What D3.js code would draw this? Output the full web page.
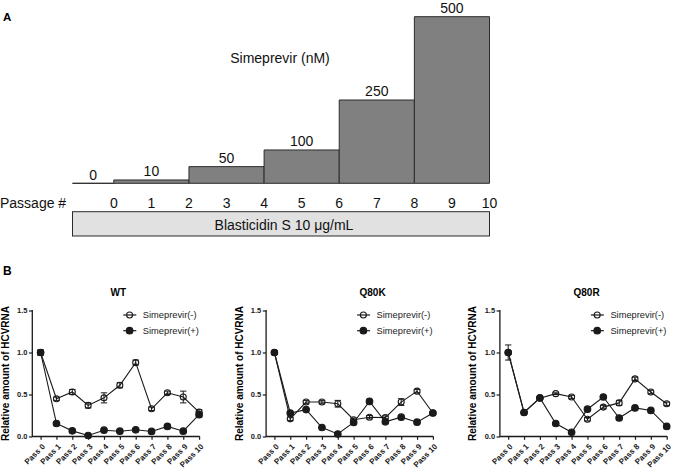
<!DOCTYPE html>
<html><head><meta charset="utf-8">
<script src="https://cdn.jsdelivr.net/npm/d3@7"></script>
<style>body{margin:0;background:#fff} svg{display:block;font-family:"Liberation Sans",Arial,Helvetica,sans-serif}</style>
</head><body><svg id="c" width="675" height="473"></svg>
<script>
// ---------- Data ----------
const doseValues = [0, 10, 50, 100, 250, 500];
const doseStartPassage = [-1.1, 0, 2, 4, 6, 8];
const doseEndPassage = [0, 2, 4, 6, 8, 10];
const passageNumbers = [0, 1, 2, 3, 4, 5, 6, 7, 8, 9, 10];
const passLabels = ["Pass 0","Pass 1","Pass 2","Pass 3","Pass 4","Pass 5","Pass 6","Pass 7","Pass 8","Pass 9","Pass 10"];
const panelNames = ["WT", "Q80K", "Q80R"];
const seriesNames = ["Simeprevir(-)", "Simeprevir(+)"];
const yTicks = [0, 0.5, 1.0, 1.5];

const wtMinus    = [1.00, 0.45, 0.53, 0.37, 0.46, 0.61, 0.88, 0.33, 0.52, 0.47, 0.29];
const wtMinusErr = [0.03, 0.02, 0.03, 0.03, 0.06, 0.03, 0.03, 0.02, 0.02, 0.07, 0.03];
const wtPlus     = [1.00, 0.155, 0.067, 0.012, 0.075, 0.063, 0.08, 0.06, 0.12, 0.063, 0.26];
const wtPlusErr  = [0.03, 0.01, 0.01, 0.01, 0.01, 0.01, 0.01, 0.01, 0.01, 0.01, 0.03];

const k80Minus    = [1.00, 0.21, 0.41, 0.41, 0.39, 0.20, 0.23, 0.225, 0.41, 0.54, 0.28];
const k80MinusErr = [0.02, 0.02, 0.02, 0.02, 0.04, 0.02, 0.02, 0.02, 0.04, 0.02, 0.02];
const k80Plus     = [1.00, 0.28, 0.32, 0.107, 0.03, 0.167, 0.417, 0.175, 0.23, 0.17, 0.28];
const k80PlusErr  = [0.02, 0.01, 0.01, 0.01, 0.01, 0.01, 0.01, 0.01, 0.01, 0.01, 0.01];

const r80Minus    = [1.00, 0.286, 0.456, 0.51, 0.47, 0.206, 0.35, 0.40, 0.686, 0.53, 0.39];
const r80MinusErr = [0.09, 0.01, 0.01, 0.01, 0.02, 0.02, 0.02, 0.03, 0.02, 0.02, 0.02];
const r80Plus     = [1.00, 0.286, 0.46, 0.155, 0.05, 0.325, 0.47, 0.22, 0.34, 0.31, 0.12];
const r80PlusErr  = [0.02, 0.01, 0.01, 0.01, 0.01, 0.01, 0.01, 0.01, 0.01, 0.01, 0.01];

const panelData = [
  {minus: wtMinus, minusErr: wtMinusErr, plus: wtPlus, plusErr: wtPlusErr},
  {minus: k80Minus, minusErr: k80MinusErr, plus: k80Plus, plusErr: k80PlusErr},
  {minus: r80Minus, minusErr: r80MinusErr, plus: r80Plus, plusErr: r80PlusErr}
];

// ---------- Drawing ----------
const svg = d3.select("#c");
const dark = "#1a1a1a";

// Panel A
svg.append("text").attr("x", 3).attr("y", 20.7).attr("font-size", 11.5).attr("font-weight", "bold").text("A");

const xA = d3.scaleLinear().domain([-1.1, 10]).range([72.5, 489.5]);
const yA = d3.scaleLinear().domain([0, 500]).range([183.3, 16.7]);

const gA = svg.append("g");
doseValues.forEach((d, i) => {
  const x0 = xA(doseStartPassage[i]), x1 = xA(doseEndPassage[i]), yt = yA(d), yb = yA(0);
  gA.append("path")
    .attr("d", `M${x0},${yb}V${yt}H${x1}V${yb}Z`)
    .attr("fill", "#808080").attr("stroke", "#2b2b2b").attr("stroke-width", 1);
  gA.append("text").attr("x", (x0 + x1) / 2).attr("y", yt - 3.8)
    .attr("text-anchor", "middle").attr("font-size", 14).attr("fill", "#111").text(d);
});

svg.append("text").attr("x", 280).attr("y", 63).attr("text-anchor", "middle")
  .attr("font-size", 14).attr("fill", "#111").text("Simeprevir (nM)");

svg.append("text").attr("x", 0).attr("y", 208.3).attr("font-size", 14).attr("fill", "#111").text("Passage #");
passageNumbers.forEach(p => {
  svg.append("text").attr("x", xA(p)).attr("y", 208.3).attr("text-anchor", "middle")
    .attr("font-size", 14).attr("fill", "#111").text(p);
});

svg.append("rect").attr("x", xA(-1.1)).attr("y", 211.7).attr("width", xA(10) - xA(-1.1)).attr("height", 24.3)
  .attr("fill", "#e1e1e1").attr("stroke", "#2b2b2b").attr("stroke-width", 1);
svg.append("text").attr("x", 284).attr("y", 229.5).attr("text-anchor", "middle")
  .attr("font-size", 14).attr("fill", "#111").text("Blasticidin S 10 μg/mL");

// Panel B
svg.append("text").attr("x", 3).attr("y", 275).attr("font-size", 12).attr("font-weight", "bold").text("B");

const titleOffsets = [86, 106.5, 86.7];
panelNames.forEach((name, pi) => {
  const ax = 32.3 + pi * 233.8;
  const g = svg.append("g");
  const x = d3.scaleLinear().domain([0, 10]).range([ax + 8.3, ax + 166.8]);
  const y = d3.scaleLinear().domain([0, 1.5]).range([436.5, 310.5]);
  const dat = panelData[pi];

  // title
  g.append("text").attr("x", ax + titleOffsets[pi]).attr("y", 296).attr("text-anchor", "middle")
    .attr("font-size", 10).attr("font-weight", "bold").text(name);

  // y label
  g.append("text").attr("transform", `translate(${ax - 23.5},${(y(0) + y(1.5)) / 2}) rotate(-90)`)
    .attr("text-anchor", "middle").attr("font-size", 10).attr("font-weight", "bold")
    .text("Relative amount of HCVRNA");

  // y axis
  const yAxis = g.append("g").attr("transform", `translate(${ax},0)`)
    .call(d3.axisLeft(y).tickValues(yTicks).tickSize(3.3).tickPadding(1.5).tickSizeOuter(0).tickFormat(d3.format(".1f")));
  yAxis.select(".domain").remove();
  yAxis.selectAll("line").attr("stroke", dark).attr("stroke-width", 1.2);
  yAxis.selectAll("text").attr("font-size", 7.5).attr("font-weight", "bold").attr("fill", dark)
    .attr("font-family", "Liberation Sans, Arial, sans-serif");
  g.append("line").attr("x1", ax).attr("x2", ax).attr("y1", y(1.5) - 0.6).attr("y2", y(0) + 0.6)
    .attr("stroke", dark).attr("stroke-width", 1.3);

  // x axis
  const xAxis = g.append("g").attr("transform", `translate(0,${y(0)})`)
    .call(d3.axisBottom(x).tickValues(passageNumbers).tickSize(3.3).tickSizeOuter(0).tickFormat(i => passLabels[i]));
  xAxis.select(".domain").remove();
  xAxis.selectAll("line").attr("stroke", dark).attr("stroke-width", 1.2);
  xAxis.selectAll("text")
    .attr("x", 0).attr("y", 0).attr("dy", "0.35em")
    .attr("transform", "translate(2.5,8.5) rotate(-45)")
    .style("text-anchor", "end")
    .attr("font-size", 8).attr("font-weight", "bold").attr("fill", dark)
    .attr("font-family", "Liberation Sans, Arial, sans-serif");
  g.append("line").attr("x1", ax).attr("x2", x(10) + 0.6).attr("y1", y(0)).attr("y2", y(0))
    .attr("stroke", dark).attr("stroke-width", 1.3);

  const line = d3.line().x((d, i) => x(passageNumbers[i])).y(d => y(d));
  const series = [
    {vals: dat.minus, err: dat.minusErr, filled: false},
    {vals: dat.plus, err: dat.plusErr, filled: true}
  ];
  series.forEach(s => {
    g.append("path").attr("d", line(s.vals)).attr("fill", "none").attr("stroke", dark).attr("stroke-width", 1.1);
  });
  series.forEach(s => {
    s.vals.forEach((v, i) => {
      const cx = x(passageNumbers[i]);
      const e = s.err[i];
      const y1 = y(v + e), y2 = y(v - e);
      g.append("path").attr("d", `M${cx},${y1}V${y2}M${cx - 3.2},${y1}H${cx + 3.2}M${cx - 3.2},${y2}H${cx + 3.2}`)
        .attr("stroke", dark).attr("stroke-width", 1).attr("fill", "none");
    });
  });
  series.forEach(s => {
    s.vals.forEach((v, i) => {
      g.append("circle").attr("cx", x(passageNumbers[i])).attr("cy", y(v)).attr("r", s.filled ? 3.3 : 3)
        .attr("fill", s.filled ? dark : "none").attr("stroke", dark).attr("stroke-width", 1.1);
    });
  });

  // legend
  seriesNames.forEach((sn, si) => {
    const ly = 315 + si * 15.7;
    g.append("line").attr("x1", ax + 91).attr("x2", ax + 104).attr("y1", ly).attr("y2", ly)
      .attr("stroke", dark).attr("stroke-width", 1.2);
    g.append("circle").attr("cx", ax + 97.3).attr("cy", ly).attr("r", si ? 3.3 : 3)
      .attr("fill", si ? dark : "none").attr("stroke", dark).attr("stroke-width", 1.1);
    g.append("text").attr("x", ax + 110.5).attr("y", ly + 3.3).attr("font-size", 9.3).attr("fill", "#222").text(sn);
  });
});
</script></body></html>
